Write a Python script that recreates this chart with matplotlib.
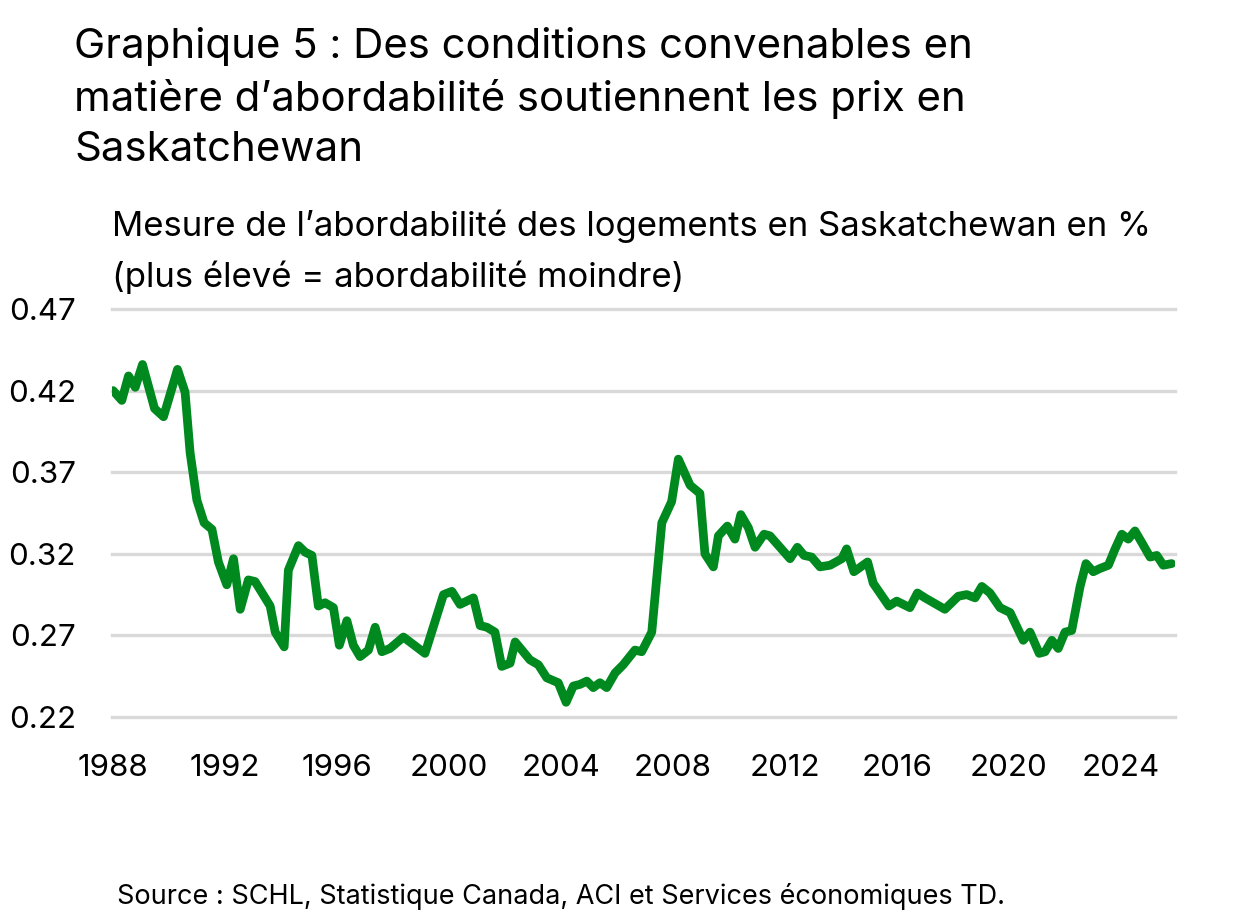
#!/usr/bin/env python3
"""
Saskatchewan housing affordability measure, TD chart style.
"""
import matplotlib
matplotlib.use("Agg")
import matplotlib.pyplot as plt

# vertices (decimal years, share of income)
years = [
    1988.00, 1988.31, 1988.55, 1988.79, 1989.05, 1989.48, 1989.80, 1990.30,
    1990.57, 1990.75, 1990.99, 1991.25, 1991.53, 1991.76, 1992.06, 1992.30,
    1992.54, 1992.83, 1993.07, 1993.61, 1993.79, 1994.11, 1994.26, 1994.62,
    1994.86, 1995.10, 1995.33, 1995.57, 1995.87, 1996.08, 1996.35, 1996.58,
    1996.82, 1997.12, 1997.36, 1997.60, 1997.89, 1998.37, 1999.14, 1999.80,
    2000.10, 2000.39, 2000.87, 2001.11, 2001.35, 2001.64, 2001.88, 2002.18,
    2002.36, 2002.89, 2003.19, 2003.49, 2003.90, 2004.18, 2004.44, 2004.68,
    2004.92, 2005.15, 2005.39, 2005.63, 2005.93, 2006.22, 2006.64, 2006.88,
    2007.24, 2007.60, 2007.95, 2008.19, 2008.61, 2008.96, 2009.14, 2009.44,
    2009.62, 2009.94, 2010.21, 2010.42, 2010.69, 2010.93, 2011.25, 2011.46,
    2012.18, 2012.44, 2012.68, 2012.95, 2013.25, 2013.61, 2014.03, 2014.20,
    2014.46, 2014.95, 2015.15, 2015.71, 2015.99, 2016.46, 2016.73, 2017.00,
    2017.71, 2018.19, 2018.49, 2018.79, 2019.03, 2019.32, 2019.68, 2020.04,
    2020.51, 2020.75, 2021.08, 2021.29, 2021.53, 2021.76, 2022.00, 2022.24,
    2022.54, 2022.75, 2023.01, 2023.25, 2023.55, 2023.79, 2024.03, 2024.26,
    2024.50, 2024.74, 2025.04, 2025.28, 2025.51, 2025.81,
]
affordability = [
    0.420, 0.414, 0.429, 0.422, 0.436, 0.409, 0.404, 0.433,
    0.419, 0.382, 0.353, 0.339, 0.335, 0.315, 0.301, 0.317,
    0.286, 0.304, 0.303, 0.288, 0.272, 0.263, 0.310, 0.325,
    0.321, 0.319, 0.288, 0.290, 0.287, 0.264, 0.279, 0.264,
    0.257, 0.261, 0.275, 0.260, 0.262, 0.269, 0.259, 0.295,
    0.297, 0.289, 0.293, 0.276, 0.275, 0.272, 0.251, 0.253,
    0.266, 0.255, 0.252, 0.244, 0.241, 0.229, 0.239, 0.240,
    0.242, 0.238, 0.241, 0.238, 0.247, 0.252, 0.261, 0.260,
    0.272, 0.339, 0.352, 0.378, 0.362, 0.357, 0.320, 0.312,
    0.331, 0.337, 0.329, 0.344, 0.336, 0.324, 0.332, 0.331,
    0.317, 0.324, 0.319, 0.318, 0.312, 0.313, 0.317, 0.323,
    0.309, 0.315, 0.302, 0.288, 0.291, 0.287, 0.296, 0.293,
    0.286, 0.294, 0.295, 0.293, 0.300, 0.296, 0.287, 0.284,
    0.267, 0.272, 0.259, 0.260, 0.267, 0.262, 0.272, 0.273,
    0.300, 0.314, 0.309, 0.311, 0.313, 0.323, 0.332, 0.329,
    0.334, 0.327, 0.318, 0.319, 0.313, 0.314,
]

y_ticks = [0.22, 0.27, 0.32, 0.37, 0.42, 0.47]
x_ticks = [1988, 1992, 1996, 2000, 2004, 2008, 2012, 2016, 2020, 2024]

title = ("Graphique 5 : Des conditions convenables en\n"
         "matière d’abordabilité soutiennent les prix en\n"
         "Saskatchewan")
subtitle = ("Mesure de l’abordabilité des logements en Saskatchewan en %\n"
            "(plus élevé = abordabilité moindre)")
source = "Source : SCHL, Statistique Canada, ACI et Services économiques TD."

plt.rcParams['font.family'] = ['Inter', 'DejaVu Sans']

W, H = 1240, 924
fig = plt.figure(figsize=(W / 100, H / 100), dpi=100)
ax = fig.add_axes([112 / W, 1 - 717 / H, (1175 - 112) / W, (717 - 309) / H])

ax.plot(years, affordability, color='#00891E', lw=6.3,
        solid_capstyle='round', solid_joinstyle='round', zorder=3)

ax.set_xlim(1987.96, 2025.93)
ax.set_ylim(0.22, 0.47)
ax.set_yticks(y_ticks)
ax.set_yticklabels([f"{v:.2f}" for v in y_ticks])
ax.set_xticks(x_ticks)
ax.grid(axis='y', color='#D9D9D9', lw=2.4, zorder=0)
for gl in ax.get_ygridlines():
    gl.set_clip_on(False)
ax.tick_params(axis='both', length=0, labelsize=22.5, colors='black')
ax.tick_params(axis='y', pad=26)
ax.tick_params(axis='x', pad=27)
for spine in ax.spines.values():
    spine.set_visible(False)

# multi-line texts anchored on the baseline of their last line
fig.text(74 / W, 1 - 161 / H, title, fontsize=30.2, va='baseline', ha='left',
         linespacing=1.40)
fig.text(112 / W, 1 - 287 / H, subtitle, fontsize=25, va='baseline', ha='left',
         linespacing=1.65)
fig.text(117 / W, 1 - 896 / H, source, fontsize=19.5, va='center', ha='left')

fig.savefig("out.png", dpi=100)
